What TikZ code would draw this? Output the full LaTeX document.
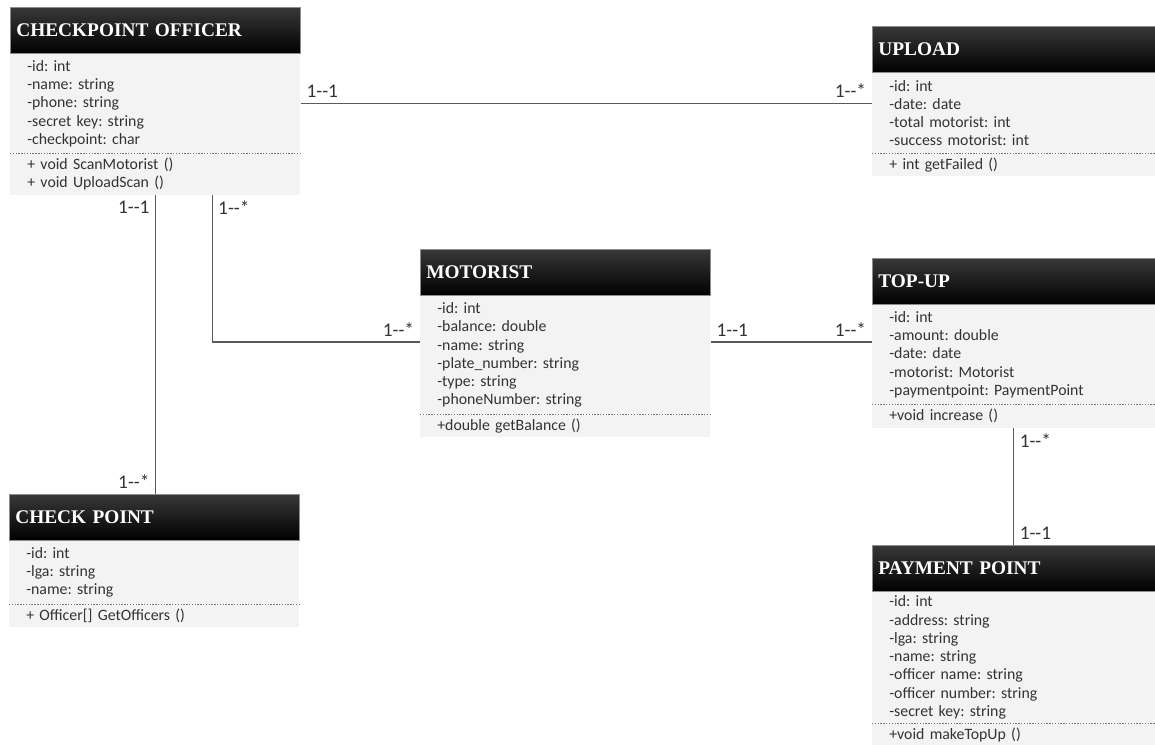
\documentclass[tikz,border=0pt]{standalone}
\usepackage{fontspec}
\setmainfont{Carlito}
\newfontfamily\headfont{Liberation Serif}
\usetikzlibrary{positioning}
\frenchspacing

\definecolor{bodygray}{HTML}{F3F3F3}
\definecolor{linegray}{HTML}{5A5A5A}
\definecolor{txtgray}{HTML}{333333}

% multiplicities (kern stops the -- ligature)
\newcommand{\mone}{1-\kern0pt-1}
\newcommand{\mmany}{1-\kern0pt-*}

\begin{document}
\begin{tikzpicture}[
    classhead/.style={anchor=north west, top color=black!78, middle color=black, bottom color=black,
        draw=black!45, line width=0.4pt, minimum height=0.92cm, inner xsep=0.12cm,
        text width=#1-0.24cm, align=left, text=white, font=\headfont\bfseries\fontsize{11}{13}\selectfont},
    classbody/.style={anchor=north west, fill=bodygray, inner xsep=0.34cm, inner ysep=1pt,
        text width=#1-0.68cm, align=left, text=txtgray, font=\fontsize{9}{10.4}\selectfont},
    sepline/.style={black!55, dash pattern=on 0.8pt off 0.8pt, line width=0.5pt},
    assoc/.style={linegray, line width=0.7pt},
    mult/.style={font=\fontsize{11}{13}\selectfont, text=txtgray, inner sep=3pt}
]
\useasboundingbox (0,0) rectangle (23.1,-14.9);

% Checkpoint officer
\node[classhead=5.8cm] (officer) at (0.2,-0.14) {CHECKPOINT OFFICER};
\node[classbody=5.8cm, minimum height=1.98cm] (officer-a) at (officer.south west)
    {-id: int\\-name: string\\-phone: string\\-secret key: string\\-checkpoint: char};
\node[classbody=5.8cm, minimum height=0.82cm] (officer-o) at (officer-a.south west)
    {+ void ScanMotorist ()\\+ void UploadScan ()};
\draw[sepline] (officer-a.south west) -- (officer-a.south east);

% Upload
\node[classhead=5.66cm] (upload) at (17.44,-0.52) {UPLOAD};
\node[classbody=5.66cm, minimum height=1.6cm] (upload-a) at (upload.south west)
    {-id: int\\-date: date\\-total motorist: int\\-success motorist: int};
\node[classbody=5.66cm, minimum height=0.44cm] (upload-o) at (upload-a.south west)
    {+ int getFailed ()};
\draw[sepline] (upload-a.south west) -- (upload-a.south east);

% Motorist
\node[classhead=5.8cm] (motorist) at (8.4,-4.98) {MOTORIST};
\node[classbody=5.8cm, minimum height=2.36cm] (motorist-a) at (motorist.south west)
    {-id: int\\-balance: double\\-name: string\\-plate\_number: string\\-type: string\\-phoneNumber: string};
\node[classbody=5.8cm, minimum height=0.44cm] (motorist-o) at (motorist-a.south west)
    {+double getBalance ()};
\draw[sepline] (motorist-a.south west) -- (motorist-a.south east);

% Top-up
\node[classhead=5.66cm] (topup) at (17.44,-5.16) {TOP-UP};
\node[classbody=5.66cm, minimum height=1.98cm] (topup-a) at (topup.south west)
    {-id: int\\-amount: double\\-date: date\\-motorist: Motorist\\-paymentpoint: PaymentPoint};
\node[classbody=5.66cm, minimum height=0.46cm] (topup-o) at (topup-a.south west)
    {+void increase ()};
\draw[sepline] (topup-a.south west) -- (topup-a.south east);

% Check point
\node[classhead=5.8cm] (check) at (0.18,-9.88) {CHECK POINT};
\node[classbody=5.8cm, minimum height=1.26cm] (check-a) at (check.south west)
    {-id: int\\-lga: string\\-name: string};
\node[classbody=5.8cm, minimum height=0.44cm] (check-o) at (check-a.south west)
    {+ Officer[] GetOfficers ()};
\draw[sepline] (check-a.south west) -- (check-a.south east);

% Payment point
\node[classhead=5.66cm] (pay) at (17.44,-10.9) {PAYMENT POINT};
\node[classbody=5.66cm, minimum height=2.62cm] (pay-a) at (pay.south west)
    {-id: int\\-address: string\\-lga: string\\-name: string\\-officer name: string\\-officer number: string\\-secret key: string};
\node[classbody=5.66cm, minimum height=0.46cm] (pay-o) at (pay-a.south west)
    {+void makeTopUp ()};
\draw[sepline] (pay-a.south west) -- (pay-a.south east);

% Associations
\coordinate (om) at ([xshift=1.14cm]officer-o.south);
\coordinate (ml) at ([yshift=0.26cm]motorist-a.west);
\coordinate (mr) at ([yshift=0.26cm]motorist-a.east);

\draw[assoc] (officer-a.east) -- node[mult, pos=0, anchor=south west] {\mone}
    node[mult, pos=1, anchor=south east] {\mmany} (officer-a.east -| upload-a.west);
\draw[assoc] (officer-o.south) -- node[mult, pos=0, anchor=north east] {\mone}
    node[mult, pos=1, anchor=south east] {\mmany} (officer-o.south |- check.north);
\draw[assoc] (om) |- node[mult, pos=0, anchor=north west] {\mmany}
    node[mult, pos=1, anchor=south east] {\mmany} (ml);
\draw[assoc] (mr) -- node[mult, pos=0, anchor=south west] {\mone}
    node[mult, pos=1, anchor=south east] {\mmany} (mr -| topup-a.west);
\draw[assoc] (topup-o.south) -- node[mult, pos=0, anchor=north west] {\mmany}
    node[mult, pos=1, anchor=south west] {\mone} (topup-o.south |- pay.north);
\end{tikzpicture}
\end{document}
